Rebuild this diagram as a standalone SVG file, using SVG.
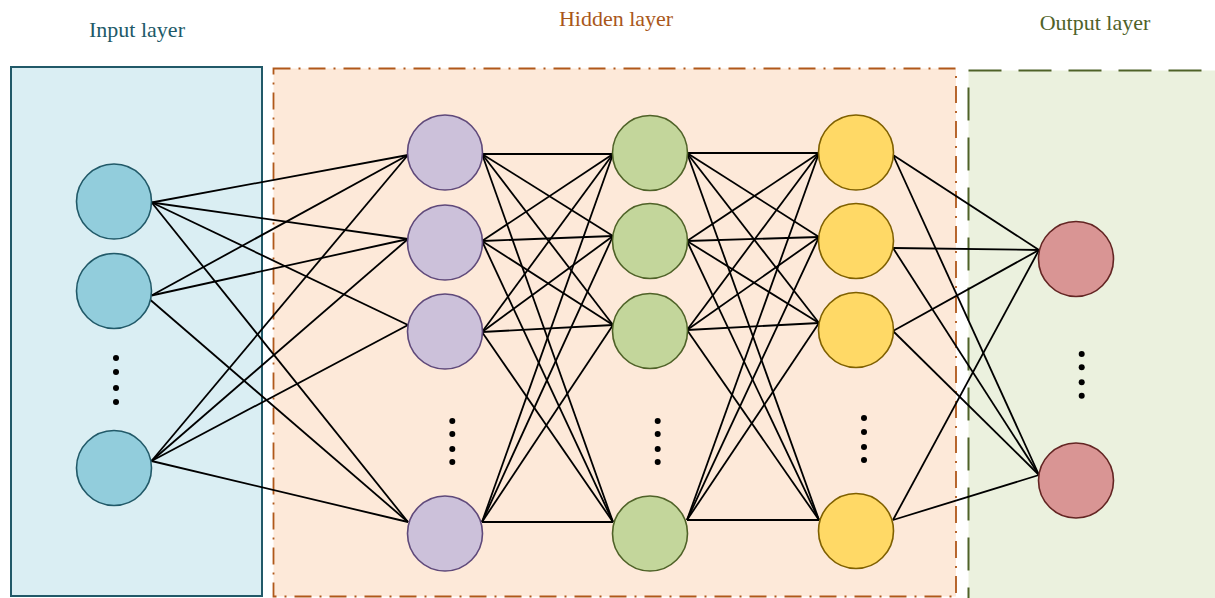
<svg xmlns="http://www.w3.org/2000/svg" width="1215" height="598" viewBox="0 0 1215 598">
<style>
.lbl{font-family:"Liberation Serif","Times New Roman",serif;font-size:22px;text-anchor:middle}
.e line{stroke:#000;stroke-width:1.8}
.in{fill:#92cddc;stroke:#215968;stroke-width:1.6}
.hp{fill:#ccc1da;stroke:#5f497a;stroke-width:1.6}
.hg{fill:#c3d69b;stroke:#4f6228;stroke-width:1.6}
.hy{fill:#ffd966;stroke:#7f6000;stroke-width:1.6}
.out{fill:#d99594;stroke:#632523;stroke-width:1.6}
.dot{fill:#000}
</style>
<rect width="1215" height="598" fill="#fff"/>
<g id="input-layer">
<rect x="11" y="67" width="251" height="529" fill="#daeef3" stroke="#215968" stroke-width="2"/>
<text class="lbl" x="137" y="37" fill="#215968">Input layer</text>
</g>
<g id="hidden-layer">
<rect x="273.5" y="68.5" width="682.5" height="528" fill="#fde9d9" stroke="#b0581a" stroke-width="1.8" stroke-dasharray="17 8 2 8"/>
<text class="lbl" x="616" y="26" fill="#a9571a">Hidden layer</text>
</g>
<g id="output-layer">
<rect x="968.5" y="70.5" width="260" height="540" fill="#ebf1de" stroke="#4f6228" stroke-width="2" stroke-dasharray="33 17"/>
<text class="lbl" x="1095" y="30" fill="#4f6228">Output layer</text>
</g>
<g id="connectors" class="e">
<line x1="151.7" y1="202.5" x2="408" y2="155"/>
<line x1="151.7" y1="202.5" x2="408" y2="239"/>
<line x1="151.7" y1="202.5" x2="408" y2="325"/>
<line x1="151.7" y1="202.5" x2="408" y2="522"/>
<line x1="151.5" y1="295.5" x2="408" y2="155"/>
<line x1="151.5" y1="295.5" x2="408" y2="239"/>
<line x1="147" y1="297" x2="408" y2="522"/>
<line x1="151.5" y1="461" x2="408" y2="155"/>
<line x1="151.5" y1="461" x2="408" y2="239"/>
<line x1="151.5" y1="461" x2="408" y2="325"/>
<line x1="151.5" y1="461" x2="408" y2="522"/>
<line x1="482" y1="154" x2="613" y2="154"/>
<line x1="482" y1="154" x2="613" y2="236"/>
<line x1="482" y1="154" x2="613" y2="325"/>
<line x1="482" y1="154" x2="613" y2="522"/>
<line x1="482" y1="241" x2="613" y2="154"/>
<line x1="482" y1="241" x2="613" y2="236"/>
<line x1="482" y1="241" x2="613" y2="325"/>
<line x1="482" y1="241" x2="613" y2="522"/>
<line x1="482" y1="332" x2="613" y2="154"/>
<line x1="482" y1="332" x2="613" y2="236"/>
<line x1="482" y1="332" x2="613" y2="325"/>
<line x1="482" y1="332" x2="613" y2="522"/>
<line x1="482" y1="522" x2="613" y2="154"/>
<line x1="482" y1="522" x2="613" y2="236"/>
<line x1="482" y1="522" x2="613" y2="325"/>
<line x1="482" y1="522" x2="613" y2="522"/>
<line x1="687" y1="153" x2="819" y2="153"/>
<line x1="687" y1="153" x2="819" y2="237"/>
<line x1="687" y1="153" x2="819" y2="323"/>
<line x1="687" y1="153" x2="819" y2="520"/>
<line x1="687" y1="241" x2="819" y2="153"/>
<line x1="687" y1="241" x2="819" y2="237"/>
<line x1="687" y1="241" x2="819" y2="323"/>
<line x1="687" y1="241" x2="819" y2="520"/>
<line x1="687" y1="330" x2="819" y2="153"/>
<line x1="687" y1="330" x2="819" y2="237"/>
<line x1="687" y1="330" x2="819" y2="323"/>
<line x1="687" y1="330" x2="819" y2="520"/>
<line x1="687" y1="520" x2="819" y2="153"/>
<line x1="687" y1="520" x2="819" y2="237"/>
<line x1="687" y1="520" x2="819" y2="323"/>
<line x1="687" y1="520" x2="819" y2="520"/>
<line x1="893" y1="155" x2="1039" y2="250"/>
<line x1="893" y1="248" x2="1039" y2="250"/>
<line x1="893" y1="331" x2="1039" y2="250"/>
<line x1="893" y1="520" x2="1039" y2="250"/>
<line x1="893" y1="155" x2="1039" y2="475"/>
<line x1="893" y1="248" x2="1039" y2="475"/>
<line x1="893" y1="331" x2="1039" y2="475"/>
<line x1="893" y1="520" x2="1039" y2="475"/>
</g>
<g id="in1"><circle class="in" cx="114" cy="201.5" r="37.5"/></g>
<g id="in2"><circle class="in" cx="114" cy="291" r="37.5"/></g>
<g id="in3"><circle class="in" cx="114" cy="468" r="37.5"/></g>
<g id="in-dots"><circle class="dot" cx="116" cy="358" r="3"/><circle class="dot" cx="116" cy="372" r="3"/><circle class="dot" cx="116" cy="388" r="3"/><circle class="dot" cx="116" cy="402" r="3"/></g>
<g id="p1"><circle class="hp" cx="445" cy="152.5" r="37.5"/></g>
<g id="p2"><circle class="hp" cx="445" cy="242.5" r="37.5"/></g>
<g id="p3"><circle class="hp" cx="445" cy="331.5" r="37.5"/></g>
<g id="p4"><circle class="hp" cx="445" cy="533.5" r="37.5"/></g>
<g id="p-dots"><circle class="dot" cx="452.3" cy="421" r="3"/><circle class="dot" cx="452.3" cy="434" r="3"/><circle class="dot" cx="452.3" cy="449" r="3"/><circle class="dot" cx="452.3" cy="462" r="3"/></g>
<g id="g1"><circle class="hg" cx="650" cy="153" r="37.5"/></g>
<g id="g2"><circle class="hg" cx="650" cy="241" r="37.5"/></g>
<g id="g3"><circle class="hg" cx="650" cy="331" r="37.5"/></g>
<g id="g4"><circle class="hg" cx="650" cy="533.5" r="37.5"/></g>
<g id="g-dots"><circle class="dot" cx="657.7" cy="421" r="3"/><circle class="dot" cx="657.7" cy="434" r="3"/><circle class="dot" cx="657.7" cy="449" r="3"/><circle class="dot" cx="657.7" cy="462" r="3"/></g>
<g id="y1"><circle class="hy" cx="856" cy="152.5" r="37.5"/></g>
<g id="y2"><circle class="hy" cx="856" cy="241" r="37.5"/></g>
<g id="y3"><circle class="hy" cx="856" cy="330" r="37.5"/></g>
<g id="y4"><circle class="hy" cx="856" cy="531" r="37.5"/></g>
<g id="y-dots"><circle class="dot" cx="864" cy="418" r="3"/><circle class="dot" cx="864" cy="432" r="3"/><circle class="dot" cx="864" cy="447" r="3"/><circle class="dot" cx="864" cy="460" r="3"/></g>
<g id="o1"><circle class="out" cx="1076" cy="259" r="37.5"/></g>
<g id="o2"><circle class="out" cx="1076" cy="480.5" r="37.5"/></g>
<g id="o-dots"><circle class="dot" cx="1081.7" cy="354" r="3"/><circle class="dot" cx="1081.7" cy="367.3" r="3"/><circle class="dot" cx="1081.7" cy="382.3" r="3"/><circle class="dot" cx="1081.7" cy="395.7" r="3"/></g>
</svg>
